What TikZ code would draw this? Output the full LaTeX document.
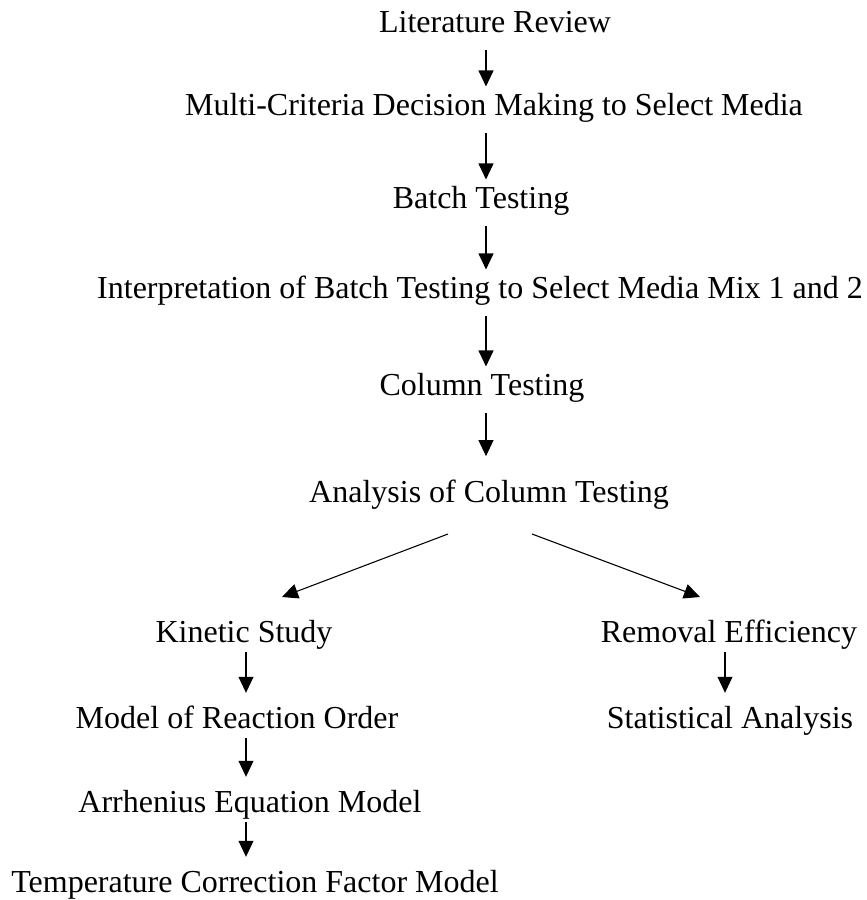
\documentclass[tikz,border=0pt]{standalone}
\usepackage{fontspec}
\setmainfont{Liberation Serif}
\usetikzlibrary{arrows.meta}
\begin{document}
\begin{tikzpicture}[x=0.375pt,y=-0.375pt,
    stage/.style={inner sep=0pt,anchor=base,text height=8pt,text depth=2.5pt,font=\fontsize{12}{14}\selectfont},
    arr/.style={-{Triangle[width=5.6pt,length=6pt]},line width=0.4pt,shorten <=4pt,shorten >=2.5pt},
    sub/.style={shorten <=1pt,shorten >=5pt}]
      \useasboundingbox (0,0) rectangle (866,900);
      \node[stage] (lit) at (495,32) {Literature Review};
      \node[stage] (mcdm) at (494,115) {Multi-Criteria Decision Making to Select Media};
      \node[stage] (batch) at (481,208) {Batch Testing};
      \node[stage] (interp) at (480,298) {Interpretation of Batch Testing to Select Media Mix 1 and 2};
      \node[stage] (column) at (482,395) {Column Testing};
      \node[stage] (analysis) at (489,502) {Analysis of Column Testing};
      \node[stage] (kinetic) at (244,642) {Kinetic Study};
      \node[stage] (removal) at (729,642) {Removal Efficiency};
      \node[stage] (order) at (237,728) {Model of Reaction Order};
      \node[stage] (stat) at (730,728) {Statistical Analysis};
      \node[stage] (arrh) at (250,812) {Arrhenius Equation Model};
      \node[stage] (temp) at (255,892) {Temperature Correction Factor Model};
      \coordinate (main) at (486,0);
      \coordinate (left) at (246,0);
      \coordinate (right) at (725,0);
      \coordinate (fork west) at (448,534);
      \coordinate (fork east) at (532,534);
      \coordinate (kinetic in) at (282,597);
      \coordinate (removal in) at (700,597);
      \begin{scope}[arr]
        \draw (lit.south -| main) -- (mcdm.north -| main);
        \draw (mcdm.south -| main) -- (batch.north -| main);
        \draw (batch.south -| main) -- (interp.north -| main);
        \draw (interp.south -| main) -- (column.north -| main);
        \draw[shorten >=9pt] (column.south -| main) -- (analysis.north -| main);
        \draw[shorten <=0pt,shorten >=0pt] (fork west) -- (kinetic in);
        \draw[shorten <=0pt,shorten >=0pt] (fork east) -- (removal in);
        \draw[sub] (kinetic.south -| left) -- (order.north -| left);
        \draw[sub] (order.south -| left) -- (arrh.north -| left);
        \draw[sub] (arrh.south -| left) -- (temp.north -| left);
        \draw[sub] (removal.south -| right) -- (stat.north -| right);
      \end{scope}
    \end{tikzpicture}
\end{document}
